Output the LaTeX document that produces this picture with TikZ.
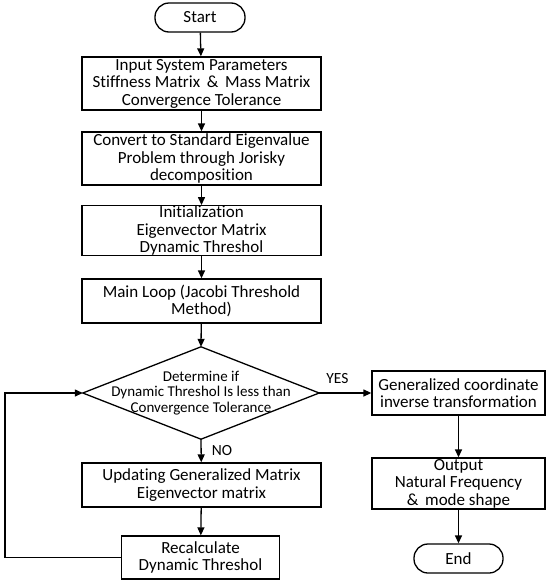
\documentclass[tikz,border=0pt]{standalone}
\usepackage{fontspec}
\setmainfont[Ligatures=NoCommon]{Carlito}
\usetikzlibrary{arrows.meta}
\begin{document}
\begin{tikzpicture}[x=1pt,y=-1pt,
  every node/.style={font=\fontsize{17}{17.5}\selectfont, align=center, inner sep=0pt},
  box/.style={draw, line width=1.3pt, minimum width=#1},
  box/.default=239pt,
  term/.style={draw, line width=1.3pt, rounded corners=14pt, minimum width=90pt, minimum height=29pt},
  arr/.style={line width=1.3pt, -{Triangle[length=8pt,width=7pt]}},
  lbl/.style={font=\fontsize{15.5}{16}\selectfont}
]
\useasboundingbox (0,0) rectangle (550,584);
\node[term] (start) at (200,17.5) {Start};
\node[box, minimum height=53pt] (b1) at (201.5,83.5) {Input System Parameters\\Stiffness Matrix \,\&\, Mass Matrix\\Convergence Tolerance};
\node[box, minimum height=53pt] (b2) at (201.5,158.5) {Convert to Standard Eigenvalue\\Problem through Jorisky\\decomposition};
\node[box, minimum height=49pt] (b3) at (201.5,230.5) {Initialization\\Eigenvector Matrix\\Dynamic Threshol};
\node[box, minimum height=44pt] (b4) at (201.5,301) {Main Loop (Jacobi Threshold\\Method)};
\node[minimum width=236pt, minimum height=92pt, font=\fontsize{15}{15.5}\selectfont] (dia) at (201,393) {Determine if\\Dynamic Threshol Is less than\\Convergence Tolerance};
\draw[line width=1.3pt] (dia.north) -- (dia.east) -- (dia.south) -- (dia.west) -- cycle;
\node[box, minimum height=44pt] (b5) at (201.5,485) {Updating Generalized Matrix\\Eigenvector matrix};
\node[box=158pt, minimum height=43pt] (b6) at (200.5,557.5) {Recalculate\\Dynamic Threshol};
\node[box=173pt, minimum height=44pt] (r1) at (458.5,393) {Generalized coordinate\\inverse transformation};
\node[box=173pt, minimum height=51pt] (r2) at (458.5,483.5) {Output\\Natural Frequency\\\&\, mode shape};
\node[term, minimum width=89pt] (end) at (458.5,558.5) {End};
\coordinate (lp) at (5,557.5);
\draw[arr] (start) -- (b1);
\draw[arr] (b1) -- (b2);
\draw[arr] (b2) -- (b3);
\draw[arr] (b3) -- (b4);
\draw[arr] (b4) -- (dia.north);
\draw[arr] (dia.south) -- node[lbl, right=10pt, pos=0.5] {NO} (b5);
\draw[arr] (b5) -- (b6);
\draw[arr] (b6.west) -- (lp) |- (dia.west);
\draw[arr] (dia.east) -- node[lbl, above=9pt, pos=0.35] {YES} (r1);
\draw[arr] (r1) -- (r2);
\draw[arr] (r2) -- (end);
\end{tikzpicture}
\end{document}
